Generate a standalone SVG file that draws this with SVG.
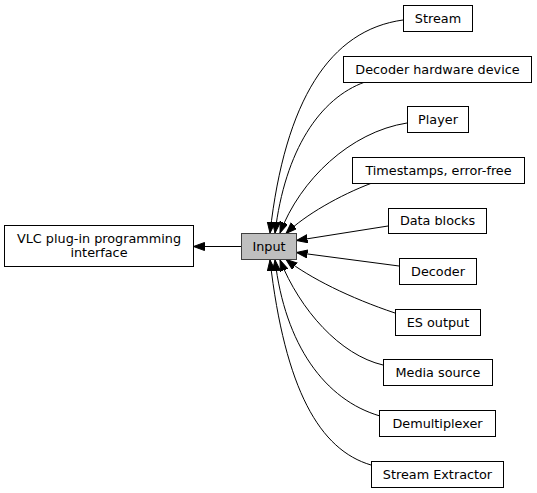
<svg xmlns="http://www.w3.org/2000/svg" width="537" height="493" viewBox="0 0 537 493">
<defs>
<marker id="ah" markerUnits="userSpaceOnUse" markerWidth="12" markerHeight="10" refX="11" refY="4" orient="auto">
<path d="M0,0 L11,4 L0,8 z" fill="#000" stroke="#000" stroke-width="1"/>
</marker>
<style>
.n rect{fill:#fff;stroke:#000;stroke-width:1}
.n text{font-family:"DejaVu Sans",sans-serif;font-size:12.8px;text-anchor:middle;fill:#000}
#input rect{fill:#bfbfbf;stroke:#404040}
.e path{fill:none;stroke:#000;stroke-width:1;marker-end:url(#ah)}
</style>
</defs>
<rect width="537" height="493" fill="#fff"/>
<g class="e" id="edges">
<path d="M241,246.5 L193.5,246.5"/>
<path d="M403,20 C330,30 285,100 270,233"/>
<path d="M365,82 C320,98 285,150 275,233"/>
<path d="M407,123 C350,132 300,180 280,233"/>
<path d="M372,183 C340,195 305,215 286,233.5"/>
<path d="M388,226 L296.5,240.5"/>
<path d="M399,266 L296.5,252.5"/>
<path d="M395,313 C350,298 310,278 286,259.5"/>
<path d="M383,365 C340,355 300,310 280,260"/>
<path d="M380,416 C325,400 285,345 275,260"/>
<path d="M371,465 C320,450 285,390 270,260"/>
</g>
<g class="n" id="vlc"><rect x="4.5" y="225.5" width="189" height="41"/><text x="99" y="242.5">VLC plug-in programming</text><text x="99" y="256.5">interface</text></g>
<g class="n" id="input"><rect x="241.5" y="233.5" width="55" height="26"/><text x="269" y="250.5">Input</text></g>
<g class="n" id="stream"><rect x="403.5" y="5.5" width="69" height="26"/><text x="438" y="22.5">Stream</text></g>
<g class="n" id="hwdev"><rect x="343.5" y="56.5" width="188" height="26"/><text x="437.5" y="73.5">Decoder hardware device</text></g>
<g class="n" id="player"><rect x="407.5" y="106.5" width="61" height="26"/><text x="438" y="123.5">Player</text></g>
<g class="n" id="timestamps"><rect x="352.5" y="157.5" width="172" height="26"/><text x="438.5" y="174.5">Timestamps, error-free</text></g>
<g class="n" id="datablocks"><rect x="388.5" y="208.5" width="98" height="25"/><text x="437.5" y="225">Data blocks</text></g>
<g class="n" id="decoder"><rect x="399.5" y="258.5" width="77" height="26"/><text x="438" y="275.5">Decoder</text></g>
<g class="n" id="esout"><rect x="395.5" y="309.5" width="85" height="26"/><text x="438" y="326.5">ES output</text></g>
<g class="n" id="media"><rect x="383.5" y="359.5" width="109" height="26"/><text x="438" y="376.5">Media source</text></g>
<g class="n" id="demux"><rect x="379.5" y="410.5" width="116" height="26"/><text x="437.5" y="427.5">Demultiplexer</text></g>
<g class="n" id="extractor"><rect x="371.5" y="461.5" width="132" height="26"/><text x="437.5" y="478.5">Stream Extractor</text></g>
</svg>
